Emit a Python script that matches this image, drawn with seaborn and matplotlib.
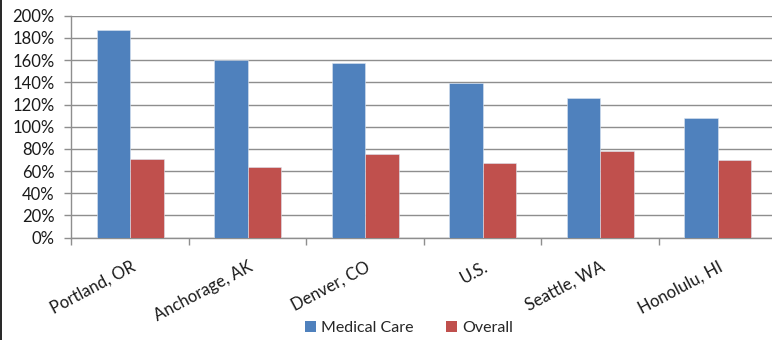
import matplotlib
matplotlib.use("Agg")
import matplotlib.pyplot as plt
import matplotlib.ticker as mticker
from matplotlib.patches import Patch
from matplotlib.lines import Line2D
import seaborn as sns
import pandas as pd

# Price increase by area
areas = ["Portland, OR", "Anchorage, AK", "Denver, CO", "U.S.", "Seattle, WA", "Honolulu, HI"]
medical_care = [187, 160, 157, 139, 126, 108]
overall = [71, 64, 75, 67, 78, 70]
series_names = ["Medical Care", "Overall"]
colors = ["#4F81BD", "#C0504D"]

df = pd.DataFrame({
    "area": areas * 2,
    "series": [series_names[0]] * len(areas) + [series_names[1]] * len(areas),
    "value": medical_care + overall,
})

sns.set_theme(style="white")
plt.rcParams["font.family"] = ["Lato", "DejaVu Sans"]
GRID = "#8e8e8e"

fig = plt.figure(figsize=(7.72, 3.40), dpi=100)
ax = fig.add_axes([0.0925, 0.3009, 0.9132, 0.6529])

sns.barplot(data=df, x="area", y="value", hue="series", order=areas,
            hue_order=series_names, palette=colors, width=0.57, gap=0,
            saturation=1, edgecolor="#dbe4f0", linewidth=0.4, ax=ax,
            legend=False, zorder=3)

ax.set_xlim(-0.5, len(areas) - 0.5)
ax.set_ylim(0, 200)
ax.yaxis.set_major_locator(mticker.MultipleLocator(20))
ax.yaxis.set_major_formatter(mticker.FuncFormatter(lambda v, p: f"{v:.0f}%"))
ax.grid(axis="y", color=GRID, linewidth=1.0, zorder=0)
ax.set_axisbelow(True)

for side in ["top", "right"]:
    ax.spines[side].set_visible(False)
for side in ["left", "bottom"]:
    ax.spines[side].set_color(GRID)
    ax.spines[side].set_linewidth(1.0)

ax.set_xlabel("")
ax.set_ylabel("")

# category labels at the centres, tick marks between categories
ax.set_xticks(range(len(areas)))
ax.set_xticklabels(areas, rotation=28, ha="right", va="top",
                   rotation_mode="anchor", fontsize=12, color="#1a1a1a")
ax.tick_params(axis="x", which="major", length=0, pad=15)
ax.set_xticks([i - 0.5 for i in range(len(areas) + 1)], minor=True)
ax.tick_params(axis="x", which="minor", length=5, width=1.0, color=GRID,
               direction="out", bottom=True)
ax.tick_params(axis="y", length=5, width=1.0, color=GRID, direction="out",
               left=True, pad=7, labelsize=12, labelcolor="#1a1a1a")

handles = [Patch(facecolor=c, edgecolor="none") for c in colors]
fig.legend(handles, series_names, loc="center", bbox_to_anchor=(409 / 772, 1 - 328 / 340),
           ncol=2, frameon=False, fontsize=11.5, handlelength=0.7, handleheight=0.7,
           handletextpad=0.35, columnspacing=2.0, borderaxespad=0, borderpad=0)

# chart frame edge on the left
fig.add_artist(Line2D([0.0007, 0.0007], [0, 1], color="black", linewidth=1.2,
                      transform=fig.transFigure))

fig.savefig("out.png", dpi=100)
